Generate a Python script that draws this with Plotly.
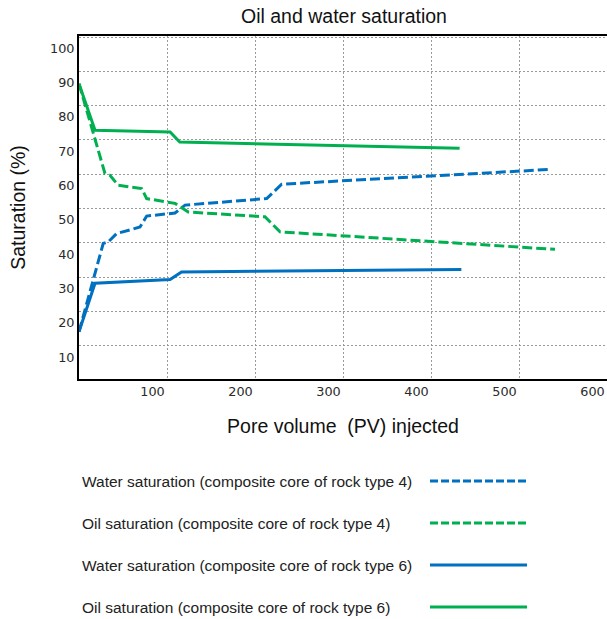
import plotly.graph_objects as go

# ---- data ----
x_water4 = [16.5, 44, 49.8, 59.3, 85.8, 93.4, 125.6, 137, 229.8, 246.8, 552]
y_water4 = [17.4, 43.1, 43.6, 46.0, 47.9, 51.1, 52.0, 54.3, 56.2, 60.4, 64.7]

x_oil4 = [16.5, 46, 51.7, 61, 87.7, 93.4, 125.6, 140.7, 227.8, 244.9, 557.4]
y_oil4 = [89.7, 63.5, 63.0, 60.1, 59.1, 56.2, 54.8, 52.3, 50.9, 46.5, 41.4]

x_water6 = [16.5, 34.7, 120, 133, 451]
y_water6 = [17.4, 31.5, 32.6, 34.8, 35.5]

x_oil6 = [16.5, 34.7, 120, 131, 449]
y_oil6 = [89.7, 76.1, 75.6, 72.7, 70.9]

names = [
    "Water saturation (composite core of rock type 4)",
    "Oil saturation (composite core of rock type 4)",
    "Water saturation (composite core of rock type 6)",
    "Oil saturation (composite core of rock type 6)",
]
x_ticks = [100, 200, 300, 400, 500, 600]
y_ticks = [10, 20, 30, 40, 50, 60, 70, 80, 90, 100]

BLUE = "#0070C0"
GREEN = "#00B050"
colors = [BLUE, GREEN, BLUE, GREEN]
dashes = ["10px,4px", "10px,4px", "solid", "solid"]
legend_dashes = ["8px,3px", "8px,3px", "solid", "solid"]

W, H = 607, 619
L, T, B, R = 79, 36, 240, 0
x_range = [16.5, 616.5]
y_range = [3.6, 103.6]

fig = go.Figure()
series = [(x_water4, y_water4), (x_oil4, y_oil4), (x_water6, y_water6), (x_oil6, y_oil6)]
for (xs, ys), name, c, d in zip(series, names, colors, dashes):
    fig.add_trace(go.Scatter(x=xs, y=ys, mode="lines", name=name, showlegend=False,
                             line=dict(color=c, width=3, dash=d)))

# invisible trace to hold the grid-only overlay axes
fig.add_trace(go.Scatter(x=[], y=[], xaxis="x2", yaxis="y2", showlegend=False,
                         hoverinfo="skip"))

FONT = "Liberation Sans, Arial, sans-serif"
TICKFONT = dict(family="DejaVu Sans, Verdana, sans-serif", size=12.8, color="#2a2a2a")

fig.update_layout(
    width=W, height=H,
    margin=dict(l=L, r=R, t=T, b=B),
    paper_bgcolor="white", plot_bgcolor="white",
    font=dict(family=FONT, color="#222222"),
    title=dict(text="Oil and water saturation", x=344 / W, xanchor="center",
               xref="container",
               y=1 - 16 / H, yanchor="middle", yref="container",
               font=dict(family=FONT, size=19.5, color="#111111")),
    xaxis=dict(range=x_range, tickmode="array", tickvals=x_ticks,
               showgrid=False, zeroline=False, showline=True, mirror=True,
               linecolor="black", linewidth=2, ticks="", tickfont=TICKFONT,
               title=dict(text="Pore volume  (PV) injected", standoff=21,
                          font=dict(family=FONT, size=19.5, color="#111111"))),
    yaxis=dict(range=y_range, tickmode="array", tickvals=y_ticks,
               showgrid=False, zeroline=False, showline=True, mirror=False,
               linecolor="black", linewidth=2, ticks="", tickfont=TICKFONT,
               title=dict(text="Saturation (%)", standoff=19,
                          font=dict(family=FONT, size=19.5, color="#111111"))),
    xaxis2=dict(range=x_range, overlaying="x", anchor="y2", tick0=117.5, dtick=100,
                showgrid=True, gridcolor="#9a9a9a", gridwidth=1, griddash="2px,2px",
                showticklabels=False, ticks="", zeroline=False, showline=False),
    yaxis2=dict(range=y_range, overlaying="y", anchor="x2", tick0=3.3, dtick=10,
                showgrid=True, gridcolor="#9a9a9a", gridwidth=1, griddash="2px,2px",
                showticklabels=False, ticks="", zeroline=False, showline=False),
)

# custom legend below the plot: text on the left, line sample on the right
plot_h = H - T - B
plot_w = W - L - R
row_y = [481, 523, 565, 607]
for name, c, d, py in zip(names, colors, legend_dashes, row_y):
    yp = (H - B - py) / plot_h
    fig.add_annotation(text=name, x=(80 - L) / plot_w, y=yp, xref="paper", yref="paper",
                       xanchor="left", yanchor="middle", showarrow=False,
                       font=dict(family=FONT, size=15.5, color="#222222"))
    fig.add_shape(type="line", xref="paper", yref="paper",
                  x0=(430 - L) / plot_w, x1=(527 - L) / plot_w, y0=yp, y1=yp,
                  line=dict(color=c, width=3, dash=d))

fig.write_html("out.html")
